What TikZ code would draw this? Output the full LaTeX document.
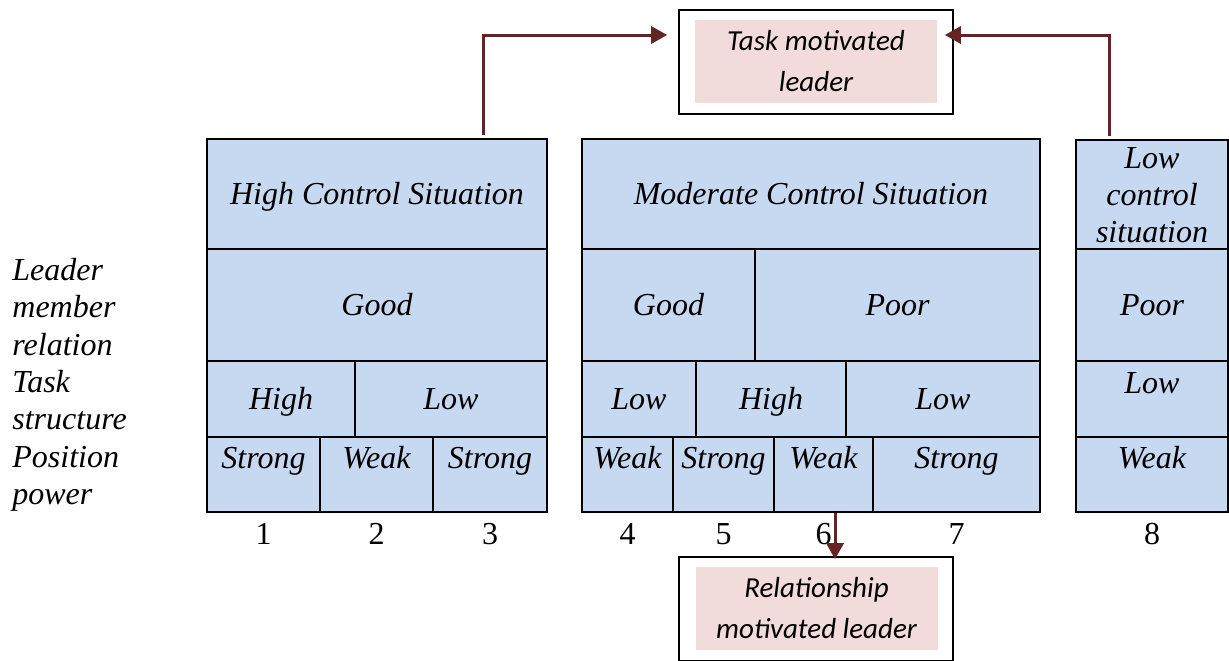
\documentclass[tikz,border=0pt]{standalone}
\usepackage{fontspec}
\setmainfont{Liberation Serif}
\newfontfamily\calibri{Carlito}
\usepackage{tikz}
\usetikzlibrary{arrows.meta,positioning}
\definecolor{cellblue}{HTML}{C6D9F1}
\definecolor{leaderpink}{HTML}{F2DCDB}
\definecolor{arrowred}{HTML}{632423}

\begin{document}
\begin{tikzpicture}[x=0.5pt,y=-0.5pt,
  basecell/.style={draw, fill=cellblue, line width=1.1pt, inner sep=0pt, align=center,
    font=\itshape\fontsize{16}{18.5}\selectfont},
  cell/.style={basecell, text height=12pt, text depth=2pt},
  topcell/.style={basecell, text height=15.5pt, text depth=22pt},
  num/.style={anchor=base, font=\fontsize{16}{18}\selectfont},
  rowlabel/.style={anchor=north west, align=left, inner sep=0pt,
    font=\itshape\fontsize{16}{18.65}\selectfont},
  leaderbox/.style={draw, line width=0.8pt, fill=white, minimum width=137pt, minimum height=52pt},
  leadertext/.style={fill=leaderpink, inner sep=0pt, align=center, minimum width=121pt,
    minimum height=41.5pt, font=\calibri\itshape\fontsize{14.5}{20.5}\selectfont},
  conn/.style={draw=arrowred, line width=1.5pt, -{Triangle[length=8pt,width=8.5pt]}}]
  \clip (0,0) rectangle (1229,660);
  \node[rowlabel] (lbl) at (12,258) {Leader\\member\\relation\\Task\\structure\\Position\\power};
  \node[cell, minimum width=170pt, minimum height=55pt] (hc) at (377,194) {High Control Situation};
  \node[cell, minimum width=170pt, minimum height=56pt] (good1) at (377,305) {Good};
  \node[cell, minimum width=74pt, minimum height=38pt] (high1) at (281,399) {High};
  \node[cell, minimum width=96pt, minimum height=38pt] (low1) at (451,399) {Low};
  \node[topcell, minimum width=56.5pt] (s1) at (263.5,474.5) {Strong};
  \node[topcell, minimum width=56.5pt] (w2) at (376.5,474.5) {Weak};
  \node[topcell, minimum width=57pt] (s3) at (490,474.5) {Strong};
  \node[cell, minimum width=229pt, minimum height=55pt] (mc) at (811,194) {Moderate Control Situation};
  \node[cell, minimum width=86.5pt, minimum height=56pt] (good2) at (668.5,305) {Good};
  \node[cell, minimum width=142.5pt, minimum height=56pt] (poor2) at (897.5,305) {Poor};
  \node[cell, minimum width=57pt, minimum height=38pt] (low2) at (639,399) {Low};
  \node[cell, minimum width=75pt, minimum height=38pt] (high2) at (771,399) {High};
  \node[cell, minimum width=97pt, minimum height=38pt] (low3) at (943,399) {Low};
  \node[topcell, minimum width=45.5pt] (w4) at (627.5,474.5) {Weak};
  \node[topcell, minimum width=50.5pt] (s5) at (723.5,474.5) {Strong};
  \node[topcell, minimum width=49.5pt] (w6) at (823.5,474.5) {Weak};
  \node[topcell, minimum width=83.5pt] (s7) at (956.5,474.5) {Strong};
  \node[basecell, minimum width=76pt, minimum height=55pt] (lc) at (1152,195) {Low\\control\\situation};
  \node[cell, minimum width=76pt, minimum height=56pt] (poor3) at (1152,305) {Poor};
  \node[topcell, minimum width=76pt, text height=16pt, text depth=22pt] (low4) at (1152,399) {Low};
  \node[topcell, minimum width=76pt] (w8) at (1152,474.5) {Weak};
  \node[num] (n1) at ([yshift=-15.5pt]s1.south) {1};
  \node[num] (n2) at ([yshift=-15.5pt]w2.south) {2};
  \node[num] (n3) at ([yshift=-15.5pt]s3.south) {3};
  \node[num] (n4) at ([yshift=-15.5pt]w4.south) {4};
  \node[num] (n5) at ([yshift=-15.5pt]s5.south) {5};
  \node[num] (n6) at ([yshift=-15.5pt]w6.south) {6};
  \node[num] (n7) at ([yshift=-15.5pt]s7.south) {7};
  \node[num] (n8) at ([yshift=-15.5pt]w8.south) {8};
  \node[leaderbox] (task) at (816,62) {};
  \node[leadertext] (tasktext) at (816,61.5) {Task motivated\\leader};
  \node[leaderbox] (rel) at (816,609) {};
  \node[leadertext] (reltext) at (816.5,608.5) {Relationship\\motivated leader};
  \draw[conn] ([xshift=-32.5pt,yshift=1.5pt]hc.north east) |- ([xshift=-5.5pt,yshift=13.5pt]task.west);
  \draw[conn] ([xshift=17.5pt,yshift=1.5pt]lc.north west) |- ([xshift=-4.5pt,yshift=13.5pt]task.east);
  \draw[conn] ([xshift=5.75pt]w6.south) -- ([xshift=5.75pt,yshift=-1.5pt]w6.south |- rel.north);
\end{tikzpicture}
\end{document}
